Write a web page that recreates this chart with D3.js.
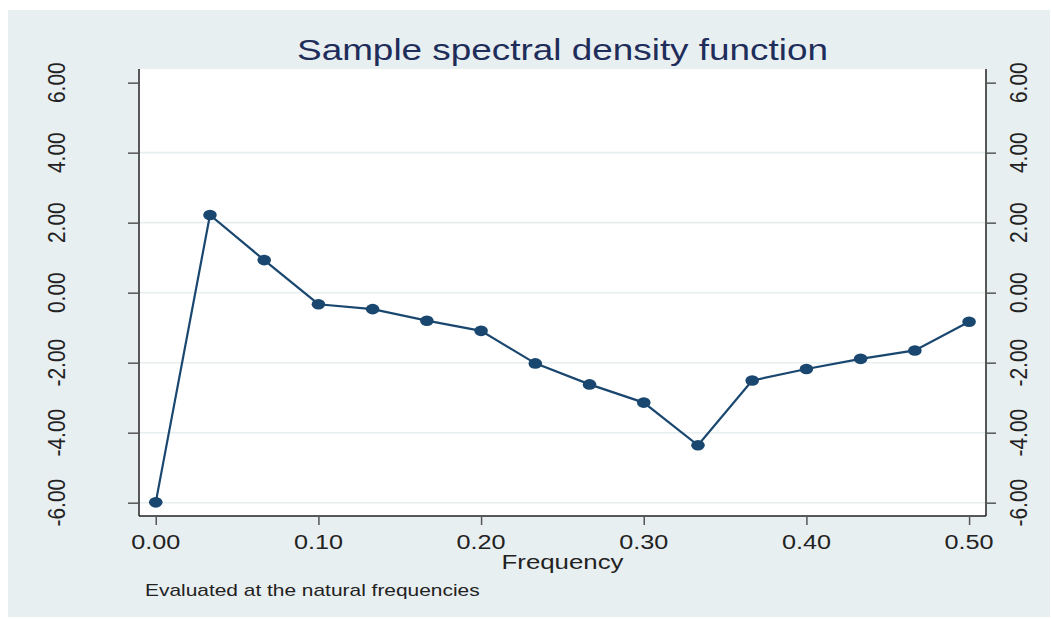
<!DOCTYPE html>
<html>
<head>
<meta charset="utf-8">
<script src="https://cdn.jsdelivr.net/npm/d3@7"></script>
<style>
  body { margin: 0; background: #fff; }
  text { font-family: "Liberation Sans", Arial, sans-serif; }
</style>
</head>
<body>
<div id="chart"></div>
<script>
// natural frequencies k/30 and the estimated log spectral density
var frequencies = [0, 1/30, 2/30, 3/30, 4/30, 5/30, 6/30, 7/30, 8/30, 9/30, 10/30, 11/30, 12/30, 13/30, 14/30, 15/30];
var density = [-5.99, 2.22, 0.93, -0.33, -0.47, -0.80, -1.09, -2.02, -2.62, -3.14, -4.36, -2.51, -2.18, -1.89, -1.65, -0.83];
var yTicks = [-6, -4, -2, 0, 2, 4, 6];
var xTicks = [0, 0.1, 0.2, 0.3, 0.4, 0.5];
var gridTicks = [-6, -4, -2, 0, 2, 4];

var W = 1051, H = 619;
var stretch = 1.23;   // the picture is wider than tall, so text is a bit wide
var navy = "#1a476f";

// plain hyphen for negatives, like Stata
var fmt = d => d.toFixed(2);

var svg = d3.select("#chart").append("svg")
    .attr("width", W)
    .attr("height", H);

svg.append("rect")
    .attr("x", 8).attr("y", 10)
    .attr("width", 1042).attr("height", 607)
    .attr("fill", "#e8eff1");

var pLeft = 139, pRight = 986, pTop = 69, pBottom = 516;

var x = d3.scaleLinear().domain([-0.0103, 0.5104]).range([pLeft, pRight]);
var y = d3.scaleLinear().domain([-6.38, 6.39]).range([pBottom, pTop]);

svg.append("rect")
    .attr("x", pLeft).attr("y", pTop)
    .attr("width", pRight - pLeft).attr("height", pBottom - pTop)
    .attr("fill", "#fff");

// grid
svg.append("g").selectAll("line")
    .data(gridTicks)
    .join("line")
    .attr("x1", pLeft).attr("x2", pRight)
    .attr("y1", d => y(d)).attr("y2", d => y(d))
    .attr("stroke", "#e6eef0")
    .attr("stroke-width", 1.6);

// left axis
var yLeft = svg.append("g")
    .attr("transform", "translate(" + pLeft + ",0)")
    .call(d3.axisLeft(y).tickValues(yTicks).tickSize(11).tickFormat(""));
yLeft.select(".domain").attr("d", "M0," + pTop + "V" + pBottom).attr("stroke", "#222").attr("stroke-width", 1.5);
yLeft.selectAll(".tick line").attr("stroke", "#555").attr("stroke-width", 1.5);

var yRight = svg.append("g")
    .attr("transform", "translate(" + pRight + ",0)")
    .call(d3.axisRight(y).tickValues(yTicks).tickSize(10).tickFormat(""));
yRight.select(".domain").attr("d", "M0," + pTop + "V" + pBottom).attr("stroke", "#222").attr("stroke-width", 1.5);
yRight.selectAll(".tick line").attr("stroke", "#555").attr("stroke-width", 1.5);

// rotated y tick labels on both sides
[56.5, 1019].forEach(function(cx) {
  svg.append("g").selectAll("text")
      .data(yTicks)
      .join("text")
      .attr("transform", d => "translate(" + cx + "," + y(d) + ") scale(1.13,1) rotate(-90)")
      .attr("text-anchor", "middle")
      .attr("dy", "0.35em")
      .style("font-size", "21px")
      .style("fill", "#222")
      .text(fmt);
});

// x axis
var xAxis = svg.append("g")
    .attr("transform", "translate(0," + pBottom + ")")
    .call(d3.axisBottom(x).tickValues(xTicks).tickSize(9).tickFormat(""));
xAxis.select(".domain").attr("d", "M" + pLeft + ",0H" + pRight).attr("stroke", "#222").attr("stroke-width", 1.5);
xAxis.selectAll(".tick line").attr("stroke", "#555").attr("stroke-width", 1.5);

svg.append("g").selectAll("text")
    .data(xTicks)
    .join("text")
    .attr("transform", d => "translate(" + x(d) + ",549) scale(" + stretch + ",1)")
    .attr("text-anchor", "middle")
    .style("font-size", "20.5px")
    .style("fill", "#222")
    .text(fmt);

svg.append("text")
    .attr("transform", "translate(562.5,569) scale(" + stretch + ",1)")
    .attr("text-anchor", "middle")
    .style("font-size", "21px")
    .style("fill", "#222")
    .text("Frequency");

svg.append("text")
    .attr("transform", "translate(145,596) scale(" + stretch + ",1)")
    .style("font-size", "17px")
    .style("fill", "#222")
    .text("Evaluated at the natural frequencies");

svg.append("text")
    .attr("transform", "translate(562.5,60) scale(" + stretch + ",1)")
    .attr("text-anchor", "middle")
    .style("font-size", "30px")
    .style("fill", "#1e2d5a")
    .text("Sample spectral density function");

// line and markers
var line = d3.line()
    .x((d, i) => x(frequencies[i]))
    .y(d => y(d));

svg.append("path")
    .datum(density)
    .attr("d", line)
    .attr("fill", "none")
    .attr("stroke", navy)
    .attr("stroke-width", 2.2);

svg.append("g").selectAll("ellipse")
    .data(density)
    .join("ellipse")
    .attr("cx", (d, i) => x(frequencies[i]))
    .attr("cy", d => y(d))
    .attr("rx", 6.8)
    .attr("ry", 5.3)
    .attr("fill", navy);
</script>
</body>
</html>
